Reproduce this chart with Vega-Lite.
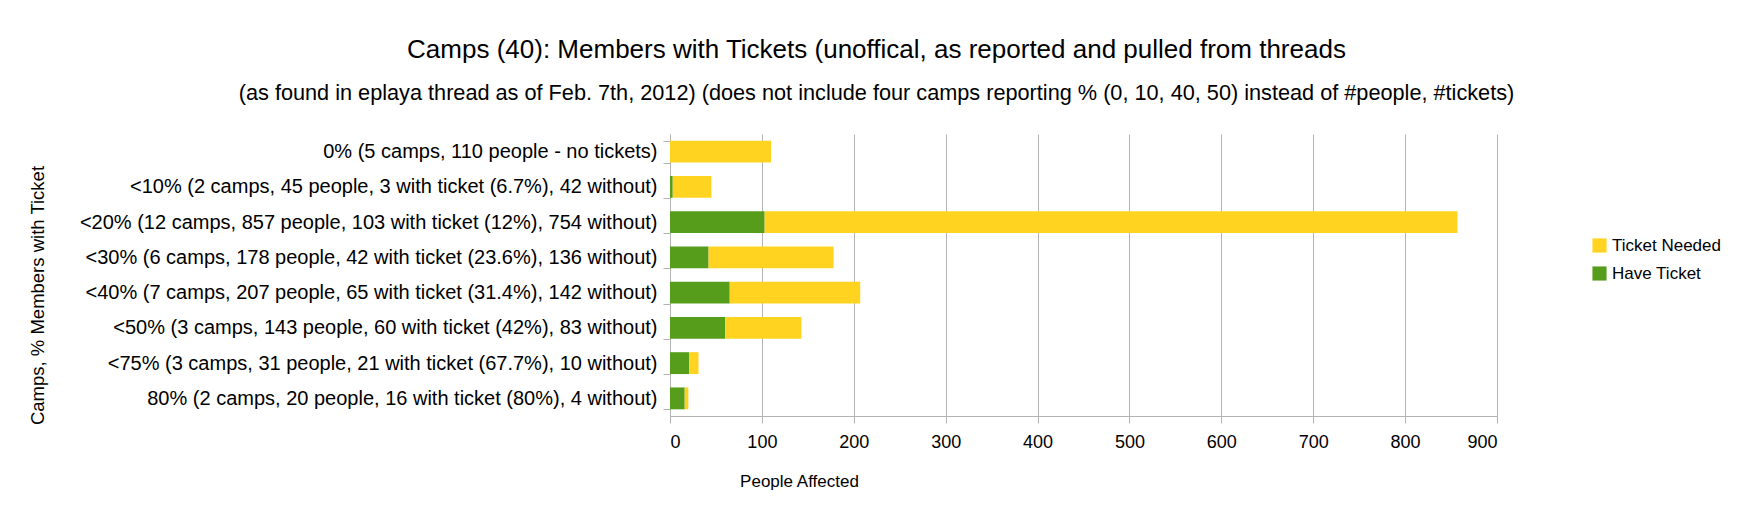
{
  "$schema": "https://vega.github.io/schema/vega-lite/v6.json",
  "autosize": {"type": "none"},
  "width": 827,
  "height": 282,
  "padding": {"left": 670, "top": 134, "right": 255, "bottom": 104},
  "background": "white",
  "config": {
    "font": "Liberation Sans",
    "view": {"stroke": null}
  },
  "title": {
    "text": "Camps (40): Members with Tickets (unoffical, as reported and pulled from threads",
    "subtitle": "(as found in eplaya thread as of Feb. 7th, 2012) (does not include four camps reporting % (0, 10, 40, 50) instead of #people, #tickets)",
    "anchor": "middle",
    "dx": -207,
    "fontSize": 26,
    "fontWeight": "normal",
    "color": "#000000",
    "subtitleFontSize": 21.7,
    "subtitleColor": "#000000",
    "subtitlePadding": 20,
    "offset": 19
  },
  "data": {
    "values": [
      {"category": "0% (5 camps, 110 people - no tickets)", "series": "Have Ticket", "people": 0},
      {"category": "0% (5 camps, 110 people - no tickets)", "series": "Ticket Needed", "people": 110},
      {"category": "<10% (2 camps, 45 people, 3 with ticket (6.7%), 42 without)", "series": "Have Ticket", "people": 3},
      {"category": "<10% (2 camps, 45 people, 3 with ticket (6.7%), 42 without)", "series": "Ticket Needed", "people": 42},
      {"category": "<20% (12 camps, 857 people, 103 with ticket (12%), 754 without)", "series": "Have Ticket", "people": 103},
      {"category": "<20% (12 camps, 857 people, 103 with ticket (12%), 754 without)", "series": "Ticket Needed", "people": 754},
      {"category": "<30% (6 camps, 178 people, 42 with ticket (23.6%), 136 without)", "series": "Have Ticket", "people": 42},
      {"category": "<30% (6 camps, 178 people, 42 with ticket (23.6%), 136 without)", "series": "Ticket Needed", "people": 136},
      {"category": "<40% (7 camps, 207 people, 65 with ticket (31.4%), 142 without)", "series": "Have Ticket", "people": 65},
      {"category": "<40% (7 camps, 207 people, 65 with ticket (31.4%), 142 without)", "series": "Ticket Needed", "people": 142},
      {"category": "<50% (3 camps, 143 people, 60 with ticket (42%), 83 without)", "series": "Have Ticket", "people": 60},
      {"category": "<50% (3 camps, 143 people, 60 with ticket (42%), 83 without)", "series": "Ticket Needed", "people": 83},
      {"category": "<75% (3 camps, 31 people, 21 with ticket (67.7%), 10 without)", "series": "Have Ticket", "people": 21},
      {"category": "<75% (3 camps, 31 people, 21 with ticket (67.7%), 10 without)", "series": "Ticket Needed", "people": 10},
      {"category": "80% (2 camps, 20 people, 16 with ticket (80%), 4 without)", "series": "Have Ticket", "people": 16},
      {"category": "80% (2 camps, 20 people, 16 with ticket (80%), 4 without)", "series": "Ticket Needed", "people": 4}
    ]
  },
  "mark": {"type": "bar"},
  "encoding": {
    "y": {
      "field": "category",
      "type": "nominal",
      "sort": null,
      "scale": {"paddingInner": 0.38, "paddingOuter": 0.19},
      "axis": {
        "title": "Camps, % Members with Ticket",
        "titleFontSize": 18.5,
        "titleFontWeight": "normal",
        "titleColor": "#000000",
        "titleX": -633,
        "titleY": 161,
        "titleAlign": "center",
        "titleBaseline": "middle",
        "titleAngle": -90,
        "labelFontSize": 20,
        "labelColor": "#000000",
        "labelPadding": 6,
        "labelLimit": 700,
        "tickBand": "extent",
        "tickSize": 7,
        "tickColor": "#b3b3b3",
        "domainColor": "#b3b3b3",
        "grid": false
      }
    },
    "x": {
      "field": "people",
      "type": "quantitative",
      "stack": "zero",
      "scale": {"domain": [0, 900], "nice": false},
      "axis": {
        "values": [0, 100, 200, 300, 400, 500, 600, 700, 800, 900],
        "title": "People Affected",
        "titleFontSize": 17,
        "titleFontWeight": "normal",
        "titleColor": "#000000",
        "titleX": 129,
        "titleY": 65,
        "titleAlign": "center",
        "titleBaseline": "middle",
        "labelFontSize": 18,
        "labelColor": "#000000",
        "labelPadding": 10,
        "tickSize": 7,
        "tickColor": "#b3b3b3",
        "domainColor": "#b3b3b3",
        "gridColor": "#b3b3b3",
        "grid": true
      }
    },
    "color": {
      "field": "series",
      "type": "nominal",
      "scale": {"domain": ["Ticket Needed", "Have Ticket"], "range": ["#ffd320", "#579d1c"]},
      "legend": {
        "title": null,
        "orient": "none",
        "legendX": 921,
        "legendY": 103,
        "symbolType": "square",
        "symbolSize": 200,
        "symbolStrokeWidth": 0,
        "labelFontSize": 17,
        "labelColor": "#000000",
        "rowPadding": 10
      }
    },
    "order": {"field": "series", "sort": "ascending"}
  }
}
